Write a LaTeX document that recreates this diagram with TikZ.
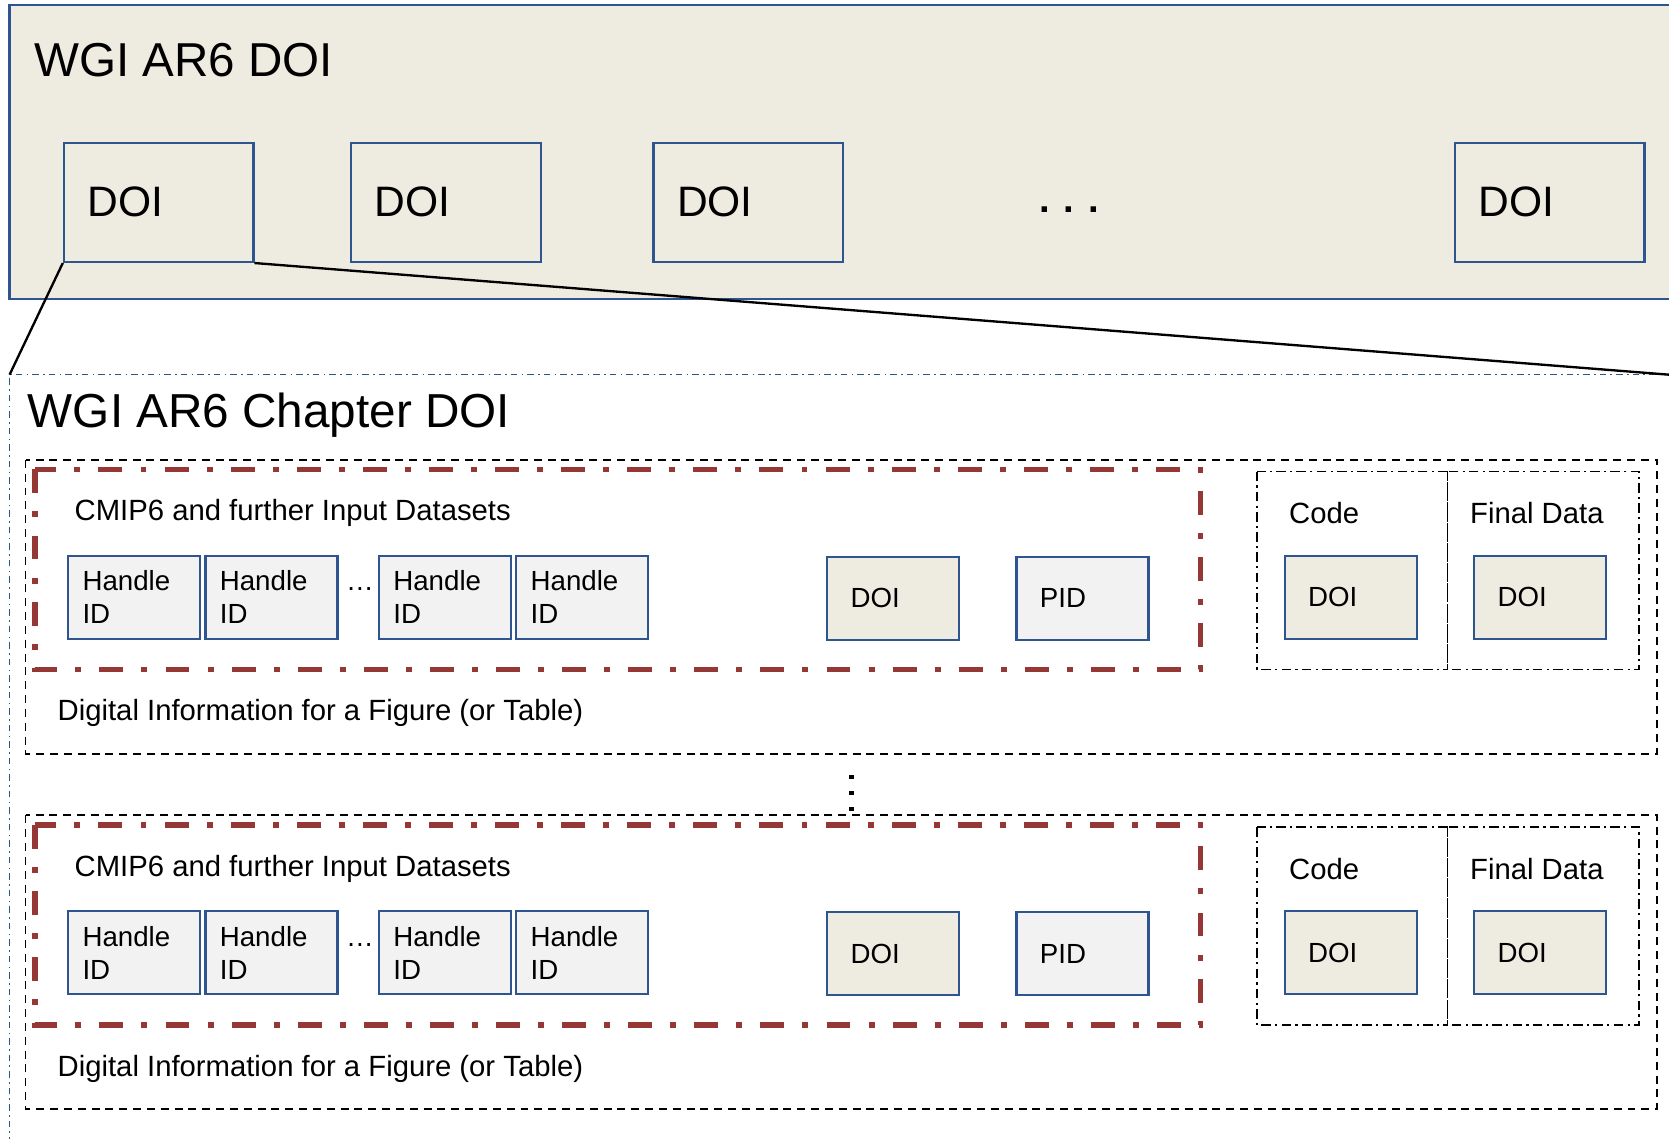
\documentclass[tikz,border=0pt]{standalone}
\usepackage{fontspec}
\setmainfont{Liberation Sans}
\definecolor{tanbg}{HTML}{EEECE1}
\definecolor{boxblue}{HTML}{2F5590}
\definecolor{idgray}{HTML}{F2F2F2}
\definecolor{inputred}{HTML}{953735}
\tikzset{
  doibox/.style={draw=boxblue,fill=tanbg,line width=2.1pt,anchor=north west,
    inner ysep=0pt,align=left,font=\fontsize{26}{31}\selectfont},
  idbox/.style={doibox,fill=idgray},
  figbox/.style={line width=1.7pt,dash pattern=on 7.5pt off 5.5pt},
  inputbox/.style={inputred,line width=5pt,dash pattern=on 22.5pt off 17pt on 5.6pt off 17pt},
  codebox/.style={line width=1.5pt,dash pattern=on 9pt off 4pt on 2pt off 4pt},
  chapline/.style={boxblue,line width=1.5pt,dash pattern=on 6pt off 4pt on 1.5pt off 4pt},
  heading/.style={anchor=west,inner sep=0pt,font=\fontsize{27.5}{33}\selectfont}
}
\begin{document}
\begin{tikzpicture}[x=1pt,y=-1pt]
  \useasboundingbox (0,0) rectangle (1568,1069.2);
  % WGI AR6 DOI
  \fill[tanbg] (9,5) rectangle (1590,281);
  \draw[boxblue,line width=2.2pt] (1590,5)--(9,5)--(9,281)--(1590,281);
  \node[anchor=base west,inner sep=0pt,font=\fontsize{44.7}{54}\selectfont] (title) at (32,72) {WGI AR6 DOI};
  \node[doibox,minimum width=178,minimum height=112,text width=134,inner xsep=22,font=\fontsize{40}{48}\selectfont] (d1) at (59,133) {DOI};
  \node[doibox,minimum width=178,minimum height=112,text width=134,inner xsep=22,font=\fontsize{40}{48}\selectfont] (d2) at (329,133) {DOI};
  \node[doibox,minimum width=178,minimum height=112,text width=134,inner xsep=22,font=\fontsize{40}{48}\selectfont] (d3) at (613,133) {DOI};
  \node[anchor=base west,inner sep=0pt,font=\fontsize{36}{44}\bfseries] (ddots) at (976,200) {. . .};
  \node[doibox,minimum width=178,minimum height=112,text width=134,inner xsep=22,font=\fontsize{40}{48}\selectfont] (dn) at (1366,133) {DOI};
  % WGI AR6 Chapter DOI
  \coordinate (chapNW) at (9,352);
  \coordinate (chapNE) at (1568,352);
  \draw[chapline] (9,1090)--(chapNW)--(1590,352);
  \draw[line width=2.2pt] (d1.south west)--(chapNW);
  \draw[line width=2.2pt] (d1.south east)--(chapNE);
  \node[anchor=base west,inner sep=0pt,font=\fontsize{44.8}{54}\selectfont] (chap) at (26,402) {WGI AR6 Chapter DOI};
  % figures
  \foreach \k/\dy in {1/0,2/334}{
    \draw[figbox] (24,432+\dy) rectangle (1557,708+\dy);
    \draw[inputbox] (33,441+\dy) rectangle (1128,629+\dy);
    \node[heading] (cmip\k) at (70,482+\dy) {CMIP6 and further Input Datasets};
    \node[idbox,minimum width=124,minimum height=78,text width=97,inner xsep=13.5] (h1\k) at (63,521+\dy) {Handle\\ID};
    \node[idbox,minimum width=124,minimum height=78,text width=97,inner xsep=13.5] (h2\k) at (192,521+\dy) {Handle\\ID};
    \node[anchor=base west,inner sep=0pt,font=\fontsize{26}{31}\selectfont] (hdots\k) at (325,555+\dy) {…};
    \node[idbox,minimum width=124,minimum height=78,text width=97,inner xsep=13.5] (h3\k) at (355,521+\dy) {Handle\\ID};
    \node[idbox,minimum width=124,minimum height=78,text width=97,inner xsep=13.5] (h4\k) at (484,521+\dy) {Handle\\ID};
    \node[doibox,minimum width=124,minimum height=78,text width=80,inner xsep=22] (doi\k) at (776,522+\dy) {DOI};
    \node[idbox,minimum width=124,minimum height=78,text width=80,inner xsep=22] (pid\k) at (954,522+\dy) {PID};
    \draw[codebox] (1181,443+\dy) rectangle (1360,629+\dy);
    \draw[codebox] (1360,443+\dy) rectangle (1540,629+\dy);
    \node[heading] (code\k) at (1211,482+\dy) {Code};
    \node[heading] (final\k) at (1381,482+\dy) {Final Data};
    \node[doibox,minimum width=124,minimum height=78,text width=80,inner xsep=22] (cdoi\k) at (1206,521+\dy) {DOI};
    \node[doibox,minimum width=124,minimum height=78,text width=80,inner xsep=22] (fdoi\k) at (1384,521+\dy) {DOI};
    \node[heading] (info\k) at (54,670+\dy) {Digital Information for a Figure (or Table)};
  }
  \foreach \y in {730,745,760}
    \fill (798,\y-2) rectangle (802,\y+2);
\end{tikzpicture}
\end{document}
